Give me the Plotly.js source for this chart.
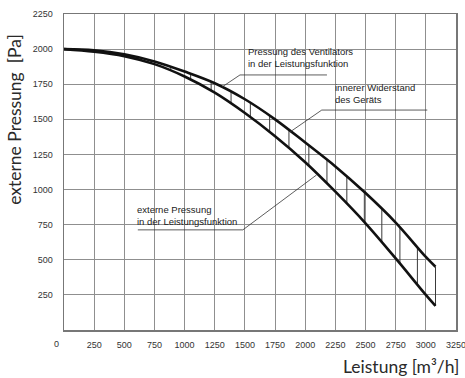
<!DOCTYPE html>
<html>
<head>
<meta charset="utf-8">
<script src="https://cdn.plot.ly/plotly-3.0.1.min.js"></script>
<style>html,body{margin:0;padding:0;background:#fff;}#chart{width:465px;height:378px;}</style>
</head>
<body>
<div id="chart"></div>
<script>
// Flow rate [m³/h]
const flow = [0, 250, 500, 750, 1000, 1250, 1500, 1750, 2000, 2250, 2500, 2750, 3000, 3080];
// Fan pressure (Pressung des Ventilators) [Pa]
const fanPressure = [2000, 1991, 1963, 1912, 1840, 1757, 1643, 1500, 1335, 1165, 975, 765, 520, 450];
// External pressure (externe Pressung) [Pa]
const extPressure = [2000, 1982, 1950, 1893, 1805, 1690, 1545, 1380, 1195, 985, 760, 510, 250, 171];
// Hatching: internal resistance (innerer Widerstand)
const hatchX = [390, 555, 720, 885, 1050, 1220, 1385, 1545, 1705, 1865, 2030, 2180, 2345, 2490, 2635, 2785, 2930, 3080];
const hatchTop = [1975, 1952, 1918, 1873, 1823, 1767, 1695, 1617, 1526, 1424, 1315, 1213, 1093, 983, 862, 731, 589, 450];
const hatchBottom = [1964, 1937, 1900, 1845, 1782, 1704, 1612, 1515, 1410, 1295, 1170, 1044, 900, 769, 625, 474, 323, 171];
// Tick labels
const xTicks = [250, 500, 750, 1000, 1250, 1500, 1750, 2000, 2250, 2500, 2750, 3000, 3250];
const yTicks = [250, 500, 750, 1000, 1250, 1500, 1750, 2000, 2250];

const hx = [], hy = [];
for (let i = 0; i < hatchX.length; i++) {
  hx.push(hatchX[i], hatchX[i], null);
  hy.push(hatchTop[i], hatchBottom[i], null);
}

const traces = [
  {x: hx, y: hy, mode: 'lines', line: {color: '#3a3a3a', width: 1}, hoverinfo: 'skip', showlegend: false},
  {x: flow, y: fanPressure, mode: 'lines', line: {color: '#111', width: 2.6, shape: 'spline'}, showlegend: false},
  {x: flow, y: extPressure, mode: 'lines', line: {color: '#111', width: 2.6, shape: 'spline'}, showlegend: false}
];

const tickFont = {family: 'Liberation Sans, Arial, sans-serif', size: 9, color: '#333'};
const annFont = {family: 'Liberation Sans, Arial, sans-serif', size: 9.5, color: '#222'};
const titleFont = {family: 'Lato, sans-serif', size: 17.5, color: '#2a2a2a'};
const leader = (x0, y0, x1, y1) => ({type: 'line', xref: 'x', yref: 'y', x0: x0, y0: y0, x1: x1, y1: y1, line: {color: '#333', width: 0.8}});

const layout = {
  width: 465, height: 378,
  margin: {l: 64, r: 9, t: 14, b: 48},
  paper_bgcolor: '#fff', plot_bgcolor: '#fff',
  showlegend: false,
  xaxis: {
    range: [0, 3250], tickvals: xTicks, ticktext: xTicks.map(String),
    ticks: '', ticklabelstandoff: 6, tickfont: tickFont, ticklabeloverflow: 'allow',
    showgrid: true, gridcolor: '#8f8f8f', gridwidth: 1,
    showline: true, linecolor: '#777', linewidth: 1.5, mirror: true, zeroline: false
  },
  yaxis: {
    range: [0, 2250], tickvals: yTicks, ticktext: yTicks.map(String),
    ticks: '', ticklabelstandoff: 8, tickfont: tickFont,
    showgrid: true, gridcolor: '#8f8f8f', gridwidth: 1,
    showline: true, linecolor: '#777', linewidth: 1.5, mirror: true, zeroline: false
  },
  shapes: [
    leader(1310, 1730, 1459, 1816), leader(1459, 1816, 2180, 1816),
    leader(1874, 1410, 2137, 1566), leader(2137, 1566, 3012, 1566),
    leader(2094, 1104, 1483, 713), leader(1483, 713, 612, 713)
  ],
  annotations: [
    {x: 1505, y: 1940, xref: 'x', yref: 'y', text: 'Pressung des Ventilators<br>in der Leistungsfunktion', showarrow: false, xanchor: 'left', yanchor: 'middle', align: 'left', font: annFont},
    {x: 2230, y: 1684, xref: 'x', yref: 'y', text: 'innerer Widerstand<br>des Geräts', showarrow: false, xanchor: 'left', yanchor: 'middle', align: 'left', font: annFont},
    {x: 592, y: 817, xref: 'x', yref: 'y', text: 'externe Pressung<br>in der Leistungsfunktion', showarrow: false, xanchor: 'left', yanchor: 'middle', align: 'left', font: annFont},
    {x: 0, y: 0, xref: 'x', yref: 'y', text: '0', showarrow: false, xanchor: 'right', yanchor: 'top', xshift: -3, yshift: -7, font: tickFont},
    {x: 1.012, y: -0.117, xref: 'paper', yref: 'paper', text: 'Leistung [m³/h]', showarrow: false, xanchor: 'right', yanchor: 'middle', font: titleFont},
    {x: -0.125, y: 0.665, xref: 'paper', yref: 'paper', text: 'externe Pressung  [Pa]', textangle: -90, showarrow: false, xanchor: 'center', yanchor: 'middle', font: titleFont}
  ]
};

Plotly.newPlot('chart', traces, layout, {staticPlot: true, displayModeBar: false});
</script>
</body>
</html>
